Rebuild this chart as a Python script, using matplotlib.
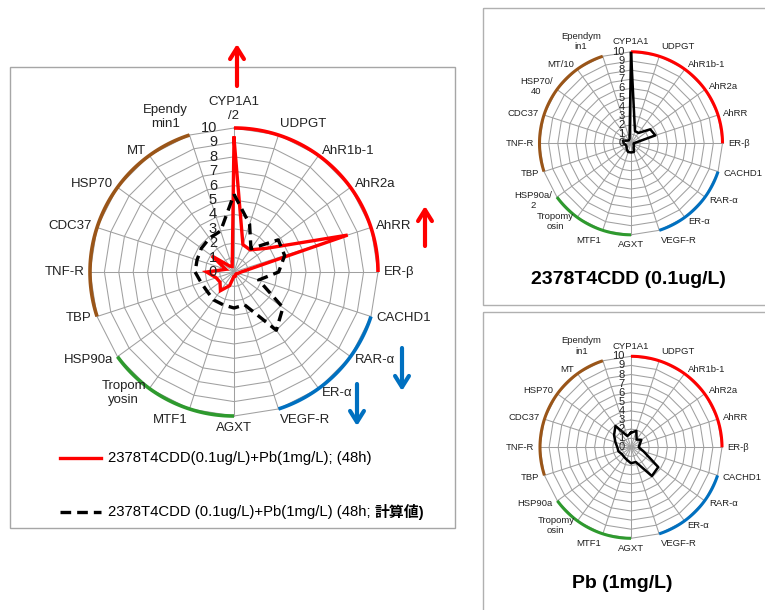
import numpy as np
import matplotlib
matplotlib.use('Agg')
import matplotlib.pyplot as plt
from matplotlib import font_manager
from matplotlib.patches import Rectangle

W, H = 765, 610

# category labels (clockwise from top)
main_labels = ['CYP1A1\n/2', 'UDPGT', 'AhR1b-1', 'AhR2a', 'AhRR', 'ER-β', 'CACHD1',
               'RAR-α', 'ER-α', 'VEGF-R', 'AGXT', 'MTF1', 'Tropom\nyosin', 'HSP90a',
               'TBP', 'TNF-R', 'CDC37', 'HSP70', 'MT', 'Ependy\nmin1']
tcdd_labels = ['CYP1A1', 'UDPGT', 'AhR1b-1', 'AhR2a', 'AhRR', 'ER-β', 'CACHD1',
               'RAR-α', 'ER-α', 'VEGF-R', 'AGXT', 'MTF1', 'Tropomy\nosin', 'HSP90a/\n2',
               'TBP', 'TNF-R', 'CDC37', 'HSP70/\n40', 'MT/10', 'Ependym\nin1']
pb_labels = ['CYP1A1', 'UDPGT', 'AhR1b-1', 'AhR2a', 'AhRR', 'ER-β', 'CACHD1',
             'RAR-α', 'ER-α', 'VEGF-R', 'AGXT', 'MTF1', 'Tropomy\nosin', 'HSP90a',
             'TBP', 'TNF-R', 'CDC37', 'HSP70', 'MT', 'Ependym\nin1']

# values
mix_measured = [9.3, 2.0, 1.9, 2.8, 8.3, 0.5, 0.3, 0.2, 0.2, 0.3,
                0.3, 1.0, 1.6, 1.2, 1.3, 1.9, 0.6, 1.9, 0.5, 0.4]
mix_calc = [5.4, 3.5, 2.0, 3.8, 3.7, 3.1, 1.8, 4.2, 5.0, 2.4,
            2.5, 2.4, 2.4, 2.3, 2.4, 2.7, 2.7, 2.8, 2.9, 3.0]
tcdd_only = [10.0, 1.4, 1.4, 2.6, 2.8, 0.3, 0.3, 0.4, 0.5, 1.0,
             1.0, 1.0, 0.8, 0.6, 0.6, 0.8, 0.9, 0.5, 0.4, 0.5]
pb_only = [1.6, 1.9, 1.05, 1.4, 1.0, 0.85, 1.45, 3.7, 3.9, 1.7,
           1.75, 1.45, 1.3, 1.25, 1.45, 1.5, 1.8, 2.3, 2.9, 1.3]

# groups marked by coloured arcs: (first index, last index, colour)
groups = [(0, 5, '#ff0000'), (6, 9, '#0070c0'), (10, 13, '#2e9a2e'), (14, 19, '#9a5518')]

names = {f.name for f in font_manager.fontManager.ttflist}
base = 'Liberation Sans' if 'Liberation Sans' in names else 'DejaVu Sans'
plt.rcParams['font.family'] = [base, 'Noto Sans CJK JP', 'DejaVu Sans']

grid_c = '#a0a0a0'
n = len(main_labels)
theta = np.arange(n) * 2 * np.pi / n
tc = np.append(theta, theta[0])


def radar(ax, labels, lab_r, fs_lab, fs_tick, tick_off, arc_lw):
    ax.set_theta_offset(np.pi / 2)
    ax.set_theta_direction(-1)
    ax.set_ylim(0, 10)
    ax.set_xticks([])
    ax.set_yticks([])
    ax.grid(False)
    ax.spines['polar'].set_visible(False)
    ax.patch.set_visible(False)
    for r in range(1, 11):
        ax.plot(tc, np.full(n + 1, r), color=grid_c, lw=0.75, zorder=1, clip_on=False)
    for t in theta:
        ax.plot([t, t], [0, 10], color=grid_c, lw=0.75, zorder=1, clip_on=False)
    for a, b, c in groups:
        tt = np.linspace(theta[a], theta[b], 60)
        ax.plot(tt, np.full(60, 10), color=c, lw=arc_lw, zorder=2,
                solid_capstyle='butt', clip_on=False)
    for i, lab in enumerate(labels):
        phi = np.pi / 2 - theta[i]
        c, s = np.cos(phi), np.sin(phi)
        ha = 'left' if c > 0.05 else ('right' if c < -0.05 else 'center')
        va = 'bottom' if s > 0.95 else ('top' if s < -0.95 else 'center')
        ax.text(theta[i], lab_r, lab, ha=ha, va=va, fontsize=fs_lab,
                multialignment='center', color='#222222')
    for r in range(0, 11):
        ax.annotate(str(r), xy=(0, r), xytext=(-tick_off, 0), textcoords='offset points',
                    ha='right', va='center', fontsize=fs_tick, color='#222222', zorder=5)


fig = plt.figure(figsize=(W / 100, H / 100), dpi=100)

ov = fig.add_axes([0, 0, 1, 1])
ov.set_xlim(0, W)
ov.set_ylim(H, 0)
ov.axis('off')

# panel frames
ov.add_patch(Rectangle((10, 67), 445, 461, fill=False, ec='#a6a6a6', lw=1))
ov.add_patch(Rectangle((483, 8), 290, 297, fill=False, ec='#b0b0b0', lw=1))
ov.add_patch(Rectangle((483, 312), 290, 310, fill=False, ec='#b0b0b0', lw=1))

# main chart
ax = fig.add_axes([(234 - 144) / W, 1 - (272 + 144) / H, 288 / W, 288 / H], projection='polar')
radar(ax, main_labels, 10.4, 9.5, 10.5, 12.2, 2.6)
ax.plot(tc, np.append(mix_measured, mix_measured[0]), color='#ff0000', lw=2.4,
        zorder=3, solid_joinstyle='miter')
ax.plot(tc, np.append(mix_calc, mix_calc[0]), color='black', lw=2.4,
        ls=(0, (3.2, 1.8)), zorder=4)

# small charts
ax2 = fig.add_axes([(631 - 91.5) / W, 1 - (143.3 + 91.5) / H, 183 / W, 183 / H], projection='polar')
radar(ax2, tcdd_labels, 10.6, 6.8, 8, 4.5, 2.2)
ax2.plot(tc, np.append(tcdd_only, tcdd_only[0]), color='black', lw=1.8, zorder=3)

ax3 = fig.add_axes([(631 - 91) / W, 1 - (447.3 + 91) / H, 182 / W, 182 / H], projection='polar')
radar(ax3, pb_labels, 10.6, 6.8, 8, 4.5, 2.2)
ax3.plot(tc, np.append(pb_only, pb_only[0]), color='black', lw=1.8, zorder=3)

ov.text(628, 280, '2378T4CDD (0.1ug/L)', ha='center', va='center', fontsize=14,
        fontweight='bold')
ov.text(622, 583, 'Pb (1mg/L)', ha='center', va='center', fontsize=14, fontweight='bold')

# up / down arrows
for (x0, y0, x1, y1, c) in [(237, 86, 237, 44, '#ff0000'), (425, 246, 425, 206, '#ff0000'),
                            (402, 348, 402, 391, '#0070c0'), (357, 384, 357, 426, '#0070c0')]:
    ov.annotate('', xy=(x1, y1), xytext=(x0, y0),
                arrowprops=dict(arrowstyle='->,head_length=0.8,head_width=0.5', lw=3,
                                color=c, shrinkA=0, shrinkB=0))

# legend
ov.plot([60, 101], [458, 458], color='#ff0000', lw=2.4)
ov.plot([60, 101], [512, 512], color='black', lw=2.4, ls=(0, (3.2, 1.8)))
ov.text(108, 458, '2378T4CDD(0.1ug/L)+Pb(1mg/L); (48h)', va='center', fontsize=10.7)
t2 = ov.text(108, 512, '2378T4CDD (0.1ug/L)+Pb(1mg/L) (48h;', va='center', fontsize=10.7)
fig.canvas.draw()
bb = t2.get_window_extent(fig.canvas.get_renderer())
xe = ov.transData.inverted().transform((bb.x1, bb.y0))[0]
ov.text(xe + 4, 512, '計算値)', va='center', fontsize=10.7, fontweight='bold')

fig.savefig('out.png', dpi=100)
